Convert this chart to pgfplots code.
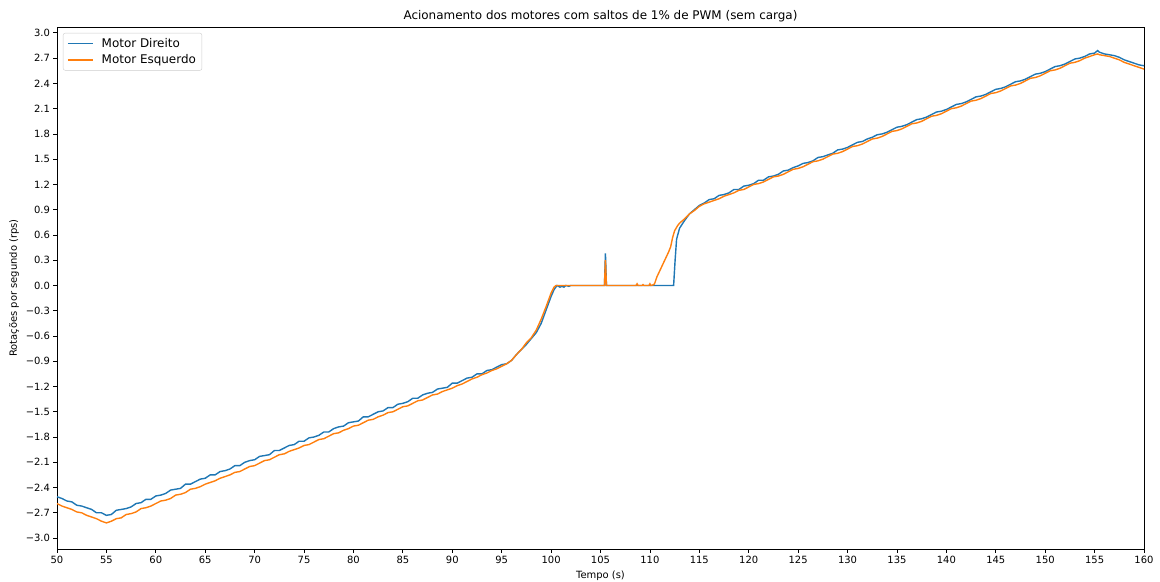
\documentclass[border=0pt]{standalone}
\usepackage{fontspec}
\setmainfont{DejaVu Sans}
\usepackage{pgfplots}
\pgfplotsset{compat=1.18}
\definecolor{mblue}{HTML}{1F77B4}
\definecolor{morange}{HTML}{FF7F0E}
\begin{document}
\begin{tikzpicture}
\useasboundingbox (-57bp,-33bp) rectangle (1103bp,549bp);
\begin{axis}[
 at={(0,0)}, anchor=south west,
 scale only axis, width=1087bp, height=522bp,
 xmin=50, xmax=160, ymin=-3.13, ymax=3.07,
 xtick={50,55,...,160},
 ytick={-3,-2.7,-2.4,-2.1,-1.8,-1.5,-1.2,-0.9,-0.6,-0.3,0,0.3,0.6,0.9,1.2,1.5,1.8,2.1,2.4,2.7,3},
 yticklabels={−3.0,−2.7,−2.4,−2.1,−1.8,−1.5,−1.2,−0.9,−0.6,−0.3,0.0,0.3,0.6,0.9,1.2,1.5,1.8,2.1,2.4,2.7,3.0},
 tick align=outside, major tick length=3.5bp,
 xtick pos=bottom, ytick pos=left,
 tick style={black, line width=0.8bp},
 axis line style={line width=0.8bp, black},
 ticklabel style={font=\fontsize{10}{12}\selectfont},
 /pgf/number format/assume math mode=true,
 legend style={at={(axis description cs:0,1)}, anchor=north west, xshift=6bp, yshift=-6bp,
   draw=black!20, rounded corners=2bp, font=\fontsize{12}{14}\selectfont,
   inner xsep=4bp, inner ysep=3bp, row sep=2bp,
   /tikz/every odd column/.append style={column sep=6bp}},
 legend cell align=left,
 legend image code/.code={\draw[#1, line width=1.5bp] (0bp,0bp) -- (25bp,0bp);},
]
\addplot[mblue, line width=1.4bp] coordinates {
(50.0,-2.51) (50.5,-2.53) (51.0,-2.56) (51.5,-2.57) (52.0,-2.61) (52.5,-2.62) (53.0,-2.64) (53.5,-2.66) (54.0,-2.70) (54.5,-2.70)
(55.0,-2.73) (55.5,-2.72) (56.0,-2.67) (56.5,-2.66) (57.0,-2.65) (57.5,-2.63) (58.0,-2.59) (58.5,-2.58) (59.0,-2.54) (59.5,-2.54)
(60.0,-2.50) (60.5,-2.49) (61.0,-2.47) (61.5,-2.43) (62.0,-2.42) (62.5,-2.41) (63.0,-2.36) (63.5,-2.36) (64.0,-2.33) (64.5,-2.30)
(65.0,-2.29) (65.5,-2.25) (66.0,-2.25) (66.5,-2.21) (67.0,-2.20) (67.5,-2.18) (68.0,-2.14) (68.5,-2.14) (69.0,-2.10) (69.5,-2.08)
(70.0,-2.07) (70.5,-2.03) (71.0,-2.02) (71.5,-2.01) (72.0,-1.96) (72.5,-1.96) (73.0,-1.93) (73.5,-1.90) (74.0,-1.89) (74.5,-1.85)
(75.0,-1.85) (75.5,-1.81) (76.0,-1.80) (76.5,-1.78) (77.0,-1.74) (77.5,-1.74) (78.0,-1.70) (78.5,-1.68) (79.0,-1.67) (79.5,-1.63)
(80.0,-1.62) (80.5,-1.61) (81.0,-1.56) (81.5,-1.56) (82.0,-1.53) (82.5,-1.50) (83.0,-1.49) (83.5,-1.45) (84.0,-1.45) (84.5,-1.41)
(85.0,-1.40) (85.5,-1.38) (86.0,-1.34) (86.5,-1.34) (87.0,-1.30) (87.5,-1.28) (88.0,-1.27) (88.5,-1.23) (89.0,-1.22) (89.5,-1.21)
(90.0,-1.16) (90.5,-1.16) (91.0,-1.13) (91.5,-1.10) (92.0,-1.09) (92.5,-1.05) (93.0,-1.05) (93.5,-1.01) (94.0,-1.00) (94.5,-0.97)
(95.0,-0.94) (95.5,-0.93) (96.0,-0.89) (96.5,-0.82) (97.0,-0.76) (97.5,-0.70) (98.0,-0.63) (98.5,-0.56) (99.0,-0.45) (99.5,-0.29)
(100.0,-0.13) (100.3,-0.05) (100.6,0.0) (100.9,-0.02) (101.1,-0.01) (101.3,-0.02) (101.5,0.0) (101.8,-0.01) (102.0,0.0)
(105.4,0.0) (105.5,0.38) (105.6,0.0) (112.4,0.0) (112.55,0.30) (112.7,0.55) (113.0,0.68) (113.5,0.77) (114.0,0.85) (114.5,0.90)
(115.0,0.95) (115.5,0.98) (116.0,1.02) (116.5,1.03) (117.0,1.07) (117.5,1.08) (118.0,1.10) (118.5,1.14) (119.0,1.14) (119.5,1.18)
(120.0,1.19) (120.5,1.21) (121.0,1.25) (121.5,1.25) (122.0,1.29) (122.5,1.30) (123.0,1.32) (123.5,1.36) (124.0,1.37) (124.5,1.40)
(125.0,1.42) (125.5,1.45) (126.0,1.46) (126.5,1.48) (127.0,1.52) (127.5,1.53) (128.0,1.55) (128.5,1.57) (129.0,1.61) (129.5,1.62)
(130.0,1.64) (130.5,1.67) (131.0,1.70) (131.5,1.71) (132.0,1.74) (132.5,1.76) (133.0,1.79) (133.5,1.80) (134.0,1.82) (134.5,1.85)
(135.0,1.88) (135.5,1.89) (136.0,1.91) (136.5,1.94) (137.0,1.97) (137.5,1.98) (138.0,2.00) (138.5,2.03) (139.0,2.06) (139.5,2.07)
(140.0,2.09) (140.5,2.12) (141.0,2.15) (141.5,2.16) (142.0,2.18) (142.5,2.21) (143.0,2.24) (143.5,2.25) (144.0,2.27) (144.5,2.30)
(145.0,2.33) (145.5,2.34) (146.0,2.36) (146.5,2.39) (147.0,2.42) (147.5,2.43) (148.0,2.45) (148.5,2.48) (149.0,2.51) (149.5,2.52)
(150.0,2.54) (150.5,2.57) (151.0,2.60) (151.5,2.61) (152.0,2.63) (152.5,2.66) (153.0,2.69) (153.5,2.70) (154.0,2.72) (154.5,2.75)
(155.0,2.76) (155.3,2.79) (155.5,2.77) (156.0,2.75) (156.5,2.74) (157.0,2.73) (157.5,2.71) (158.0,2.68) (158.5,2.66) (159.0,2.64)
(159.5,2.62) (160.0,2.61)
};
\addlegendentry{Motor Direito}
\addplot[morange, line width=1.4bp] coordinates {
(50.0,-2.59) (50.5,-2.62) (51.0,-2.64) (51.5,-2.66) (52.0,-2.69) (52.5,-2.70) (53.0,-2.73) (53.5,-2.75) (54.0,-2.77) (54.5,-2.80)
(55.0,-2.82) (55.5,-2.80) (56.0,-2.77) (56.5,-2.76) (57.0,-2.72) (57.5,-2.71) (58.0,-2.69) (58.5,-2.65) (59.0,-2.64) (59.5,-2.62)
(60.0,-2.59) (60.5,-2.56) (61.0,-2.55) (61.5,-2.53) (62.0,-2.49) (62.5,-2.48) (63.0,-2.46) (63.5,-2.42) (64.0,-2.41) (64.5,-2.39)
(65.0,-2.36) (65.5,-2.34) (66.0,-2.32) (66.5,-2.29) (67.0,-2.27) (67.5,-2.25) (68.0,-2.22) (68.5,-2.21) (69.0,-2.18) (69.5,-2.15)
(70.0,-2.14) (70.5,-2.11) (71.0,-2.08) (71.5,-2.07) (72.0,-2.04) (72.5,-2.01) (73.0,-2.00) (73.5,-1.97) (74.0,-1.95) (74.5,-1.93)
(75.0,-1.90) (75.5,-1.89) (76.0,-1.86) (76.5,-1.83) (77.0,-1.82) (77.5,-1.79) (78.0,-1.76) (78.5,-1.75) (79.0,-1.72) (79.5,-1.70)
(80.0,-1.67) (80.5,-1.66) (81.0,-1.63) (81.5,-1.60) (82.0,-1.59) (82.5,-1.56) (83.0,-1.54) (83.5,-1.51) (84.0,-1.50) (84.5,-1.47)
(85.0,-1.44) (85.5,-1.43) (86.0,-1.40) (86.5,-1.37) (87.0,-1.36) (87.5,-1.33) (88.0,-1.30) (88.5,-1.29) (89.0,-1.26) (89.5,-1.24)
(90.0,-1.22) (90.5,-1.19) (91.0,-1.17) (91.5,-1.14) (92.0,-1.11) (92.5,-1.09) (93.0,-1.06) (93.5,-1.04) (94.0,-1.01) (94.5,-0.99)
(95.0,-0.96) (95.5,-0.93) (96.0,-0.89) (96.5,-0.82) (97.0,-0.76) (97.5,-0.68) (98.0,-0.62) (98.5,-0.53) (99.0,-0.40) (99.5,-0.25)
(100.0,-0.09) (100.3,-0.02) (100.5,0.0) (105.4,0.0) (105.5,0.30) (105.6,0.0) (108.6,0.0) (108.7,0.02) (108.8,0.0) (109.2,0.0)
(109.3,0.01) (109.4,0.0) (109.9,0.0) (110.0,0.02) (110.1,0.0) (110.4,0.01) (110.5,0.03) (110.7,0.10) (110.9,0.15) (111.1,0.20)
(111.3,0.25) (111.5,0.30) (111.7,0.35) (111.9,0.40) (112.1,0.46) (112.3,0.57) (112.5,0.65) (112.8,0.71) (113.0,0.74) (113.5,0.79)
(114.0,0.85) (114.5,0.89) (115.0,0.94) (115.5,0.97) (116.0,0.99) (116.5,1.01) (117.0,1.03) (117.5,1.06) (118.0,1.08) (118.5,1.10)
(119.0,1.13) (119.5,1.14) (120.0,1.17) (120.5,1.20) (121.0,1.21) (121.5,1.23) (122.0,1.26) (122.5,1.29) (123.0,1.30) (123.5,1.32)
(124.0,1.35) (124.5,1.38) (125.0,1.39) (125.5,1.41) (126.0,1.44) (126.5,1.47) (127.0,1.48) (127.5,1.50) (128.0,1.53) (128.5,1.56)
(129.0,1.57) (129.5,1.59) (130.0,1.62) (130.5,1.65) (131.0,1.66) (131.5,1.68) (132.0,1.71) (132.5,1.74) (133.0,1.75) (133.5,1.77)
(134.0,1.80) (134.5,1.83) (135.0,1.84) (135.5,1.86) (136.0,1.89) (136.5,1.92) (137.0,1.93) (137.5,1.95) (138.0,1.98) (138.5,2.01)
(139.0,2.02) (139.5,2.04) (140.0,2.07) (140.5,2.10) (141.0,2.11) (141.5,2.13) (142.0,2.16) (142.5,2.19) (143.0,2.20) (143.5,2.22)
(144.0,2.25) (144.5,2.28) (145.0,2.29) (145.5,2.31) (146.0,2.34) (146.5,2.37) (147.0,2.38) (147.5,2.40) (148.0,2.43) (148.5,2.46)
(149.0,2.47) (149.5,2.49) (150.0,2.52) (150.5,2.55) (151.0,2.56) (151.5,2.58) (152.0,2.61) (152.5,2.64) (153.0,2.65) (153.5,2.67)
(154.0,2.70) (154.5,2.72) (155.0,2.74) (155.3,2.75) (155.5,2.74) (156.0,2.73) (156.5,2.72) (157.0,2.70) (157.5,2.68) (158.0,2.65)
(158.5,2.63) (159.0,2.61) (159.5,2.59) (160.0,2.57)
};
\addlegendentry{Motor Esquerdo}
\end{axis}
\node[font=\fontsize{12}{14}\selectfont] at (543.5bp,533bp) {Acionamento dos motores com saltos de 1\% de PWM (sem carga)};
\node[font=\fontsize{10}{12}\selectfont] at (543.5bp,-27bp) {Tempo (s)};
\node[font=\fontsize{10}{12}\selectfont, rotate=90] at (-43bp,261bp) {Rotações por segundo (rps)};
\end{tikzpicture}
\end{document}
